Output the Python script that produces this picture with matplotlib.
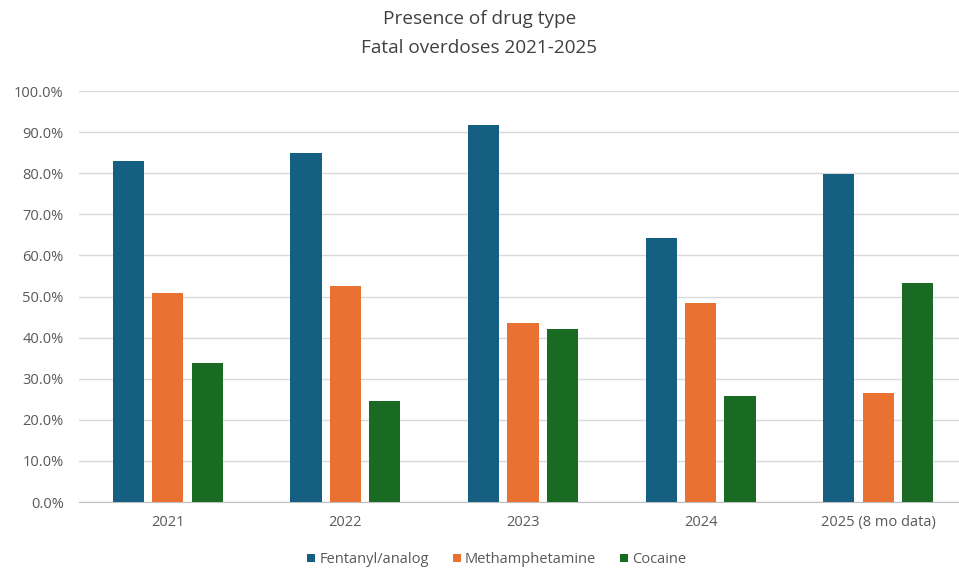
import matplotlib.pyplot as plt
import numpy as np
from matplotlib.ticker import PercentFormatter

plt.rcParams['font.family'] = ['Open Sans', 'DejaVu Sans']

years = ['2021', '2022', '2023', '2024', '2025 (8 mo data)']
fentanyl = [0.830, 0.849, 0.917, 0.643, 0.798]
meth = [0.509, 0.526, 0.436, 0.484, 0.265]
cocaine = [0.338, 0.246, 0.421, 0.258, 0.533]

series = [('Fentanyl/analog', fentanyl, '#156082'),
          ('Methamphetamine', meth, '#E97132'),
          ('Cocaine', cocaine, '#196B24')]

fig = plt.figure(figsize=(9.59, 5.69), dpi=100)
ax = fig.add_axes([79 / 959, 0.1177, 888 / 959, 0.7223])

x = np.arange(len(years))
width = 0.176
step = 0.222
for i, (name, vals, color) in enumerate(series):
    ax.bar(x + (i - 1) * step, vals, width, color=color, label=name, zorder=3)

ax.set_xlim(-0.5, len(years) - 0.5)
ax.set_ylim(0, 1.0)
ax.set_yticks(np.arange(0, 1.01, 0.1))
ax.yaxis.set_major_formatter(PercentFormatter(1.0, decimals=1))
ax.set_xticks(x)
ax.set_xticklabels(years)
ax.grid(axis='y', color='#d9d9d9', linewidth=1, zorder=0)
ax.tick_params(axis='both', length=0, colors='#595959', labelsize=10.5)
ax.tick_params(axis='x', pad=9)
ax.tick_params(axis='y', pad=11)
for s in ['top', 'right', 'left']:
    ax.spines[s].set_visible(False)
ax.spines['bottom'].set_color('#bfbfbf')

fig.suptitle('Presence of drug type\nFatal overdoses 2021-2025', y=0.982,
             fontsize=13.7, color='#404040', linespacing=1.8)

fig.legend(loc='lower center', bbox_to_anchor=(0.518, -0.02), ncol=3,
           frameon=False, fontsize=10.5, labelcolor='#595959',
           handlelength=0.55, handleheight=0.55, handletextpad=0.3,
           columnspacing=1.6)

fig.savefig('out.png', dpi=100)
